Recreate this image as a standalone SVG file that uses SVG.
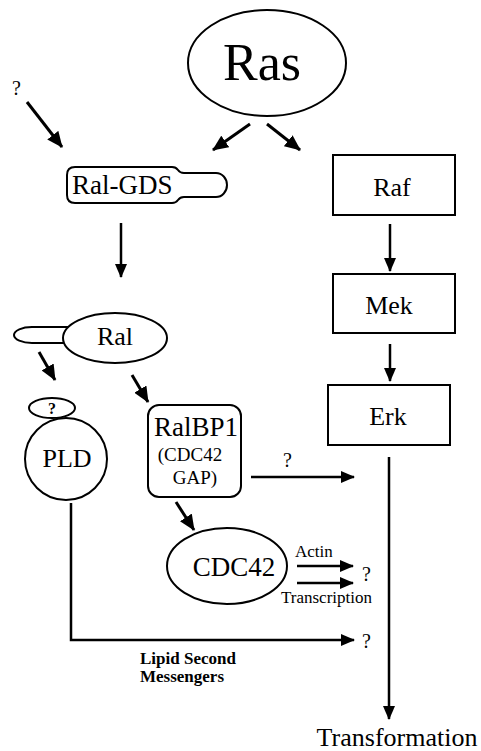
<svg xmlns="http://www.w3.org/2000/svg" width="481" height="751" viewBox="0 0 481 751">
<style>
.s{fill:#fff;stroke:#000;stroke-width:2}
.t{font-family:'Liberation Serif','DejaVu Serif',serif;fill:#000}
.c{stroke:#000;stroke-width:2.5;fill:none}
.th{stroke:#000;stroke-width:3;fill:none}
</style>
<defs>
<marker id="ah" viewBox="0 0 14 12" refX="13" refY="6" markerWidth="14" markerHeight="12" markerUnits="userSpaceOnUse" orient="auto"><path d="M0,0 L14,6 L0,12 z" fill="#000"/></marker>
<marker id="ahb" viewBox="0 0 16 14" refX="15" refY="7" markerWidth="16" markerHeight="14" markerUnits="userSpaceOnUse" orient="auto"><path d="M0,0 L16,7 L0,14 z" fill="#000"/></marker>
</defs>
<rect width="481" height="751" fill="#fff"/>
<g id="connectors">
<line class="th" x1="27" y1="102" x2="62" y2="147" marker-end="url(#ahb)"/>
<line class="th" x1="250" y1="124" x2="213" y2="150" marker-end="url(#ahb)"/>
<line class="th" x1="267" y1="124" x2="300" y2="150" marker-end="url(#ahb)"/>
<line class="c" x1="121" y1="223" x2="121" y2="277" marker-end="url(#ah)"/>
<line class="c" x1="390" y1="224" x2="390" y2="271" marker-end="url(#ah)"/>
<line class="c" x1="390" y1="344" x2="390" y2="381" marker-end="url(#ah)"/>
<line class="c" x1="389" y1="457" x2="389" y2="719" marker-end="url(#ah)"/>
<line class="th" x1="39" y1="352" x2="55" y2="380" marker-end="url(#ahb)"/>
<line class="th" x1="132" y1="375" x2="148" y2="402" marker-end="url(#ahb)"/>
<line class="th" x1="176" y1="502" x2="194" y2="530" marker-end="url(#ahb)"/>
<line class="c" x1="251" y1="477" x2="354" y2="477" marker-end="url(#ah)"/>
<line class="c" x1="297" y1="566" x2="353" y2="566" marker-end="url(#ah)"/>
<line class="c" x1="297" y1="583" x2="353" y2="583" marker-end="url(#ah)"/>
<polyline class="c" points="71,503 71,640 354,640" marker-end="url(#ah)"/>
<text class="t" x="12" y="95" font-size="20">?</text>
<text class="t" x="283" y="467" font-size="20">?</text>
<text class="t" x="362" y="581" font-size="20">?</text>
<text class="t" x="362" y="648" font-size="20">?</text>
<text class="t" x="295" y="557" font-size="17">Actin</text>
<text class="t" x="281" y="603" font-size="17">Transcription</text>
<text class="t" x="140" y="664" font-size="17" font-weight="bold">Lipid Second</text>
<text class="t" x="140" y="682" font-size="17" font-weight="bold">Messengers</text>
</g>
<g id="ras">
<ellipse class="s" cx="267" cy="63" rx="79" ry="53"/>
<text class="t" x="262" y="80" font-size="52" text-anchor="middle">Ras</text>
</g>
<g id="ralgds">
<path class="s" d="M75 167 H172 Q176 167 178 170 Q180 173 184 173 H216 A11 12 0 0 1 216 197 H184 Q180 197 178 200 Q176 203 172 203 H75 Q67 203 67 195 V175 Q67 167 75 167 Z"/>
<text class="t" x="72" y="194" font-size="27">Ral-GDS</text>
</g>
<g id="raf">
<rect class="s" x="333" y="155" width="122" height="60"/>
<text class="t" x="392" y="196" font-size="26" text-anchor="middle">Raf</text>
</g>
<g id="mek">
<rect class="s" x="333" y="274" width="122" height="59"/>
<text class="t" x="389" y="314" font-size="26" text-anchor="middle">Mek</text>
</g>
<g id="erk">
<rect class="s" x="328" y="385" width="122" height="60"/>
<text class="t" x="388" y="425" font-size="26" text-anchor="middle">Erk</text>
</g>
<g id="ral">
<path class="s" d="M68 327 H32 A18 8 0 0 0 32 343 H68"/>
<ellipse class="s" cx="115" cy="338" rx="52" ry="25"/>
<text class="t" x="115" y="345" font-size="26" text-anchor="middle">Ral</text>
</g>
<g id="pld">
<circle class="s" cx="66" cy="459" r="41"/>
<ellipse class="s" cx="52" cy="408" rx="23" ry="10"/>
<text class="t" x="52" y="414" font-size="16" font-weight="bold" text-anchor="middle">?</text>
<text class="t" x="67" y="467" font-size="26" text-anchor="middle">PLD</text>
</g>
<g id="ralbp1">
<rect class="s" x="148" y="405" width="93" height="92" rx="11"/>
<text class="t" x="196" y="436" font-size="27" text-anchor="middle">RalBP1</text>
<text class="t" x="190" y="461" font-size="19" text-anchor="middle">(CDC42</text>
<text class="t" x="195" y="484" font-size="19" text-anchor="middle">GAP)</text>
</g>
<g id="cdc42">
<ellipse class="s" cx="227" cy="566" rx="60" ry="38"/>
<text class="t" x="234" y="576" font-size="27" text-anchor="middle">CDC42</text>
</g>
<g id="transformation">
<text class="t" x="397" y="746" font-size="26" text-anchor="middle">Transformation</text>
</g>
</svg>
